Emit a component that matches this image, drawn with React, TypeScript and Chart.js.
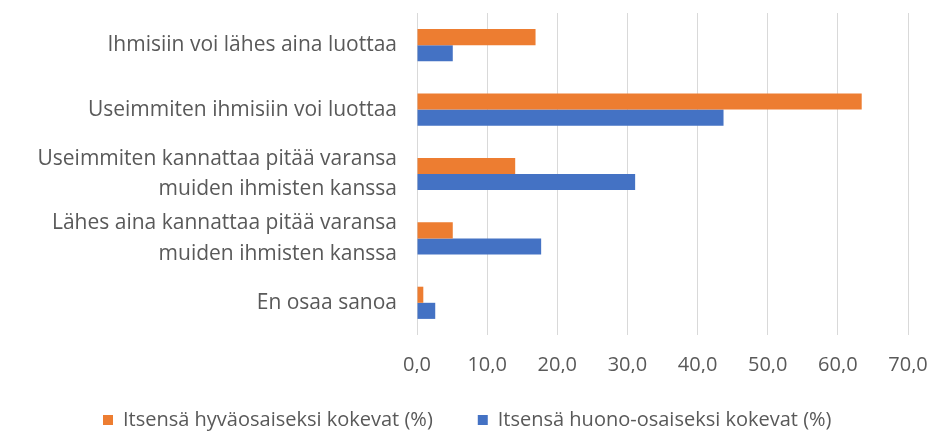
import React, { useEffect, useRef } from "react";
import { Chart, registerables } from "chart.js";

Chart.register(...registerables);

const categories: (string | string[])[] = [
  "Ihmisiin voi lähes aina luottaa",
  "Useimmiten ihmisiin voi luottaa",
  ["Useimmiten kannattaa pitää varansa", "muiden ihmisten kanssa"],
  ["Lähes aina kannattaa pitää varansa", "muiden ihmisten kanssa"],
  "En osaa sanoa",
];
const seriesNames = [
  "Itsensä hyväosaiseksi kokevat (%)",
  "Itsensä huono-osaiseksi kokevat (%)",
];
const hyvaosaiset = [16.9, 63.4, 14.0, 5.1, 0.9];
const huonoosaiset = [5.1, 43.7, 31.1, 17.7, 2.6];
const xMin = 0;
const xMax = 70;
const xStep = 10;

const FONT = "'Open Sans', sans-serif";
const TEXT = "#595959";

const LEGEND_PAD = 45;
const LEGEND_FONT = 20;

const legendPlace = {
  id: "legendPlace",
  afterLayout(chart: any) {
    const lg = chart.legend;
    if (!lg) return;
    const firstBoxX = 103;
    const centerY = 420;
    lg.left = firstBoxX - LEGEND_PAD;
    lg.right = 935;
    lg.top = centerY - LEGEND_PAD - LEGEND_FONT / 2;
    lg.bottom = 431;
  },
};

export default function App() {
  const ref = useRef<HTMLCanvasElement | null>(null);
  useEffect(() => {
    if (!ref.current) return;
    const chart = new Chart(ref.current, {
      type: "bar",
      data: {
        labels: categories as any,
        datasets: [
          {
            label: seriesNames[0],
            data: hyvaosaiset,
            backgroundColor: "#ED7D31",
            barPercentage: 1,
            categoryPercentage: 0.5,
          },
          {
            label: seriesNames[1],
            data: huonoosaiset,
            backgroundColor: "#4472C4",
            barPercentage: 1,
            categoryPercentage: 0.5,
          },
        ],
      },
      options: {
        indexAxis: "y",
        animation: false,
        responsive: true,
        maintainAspectRatio: false,
        layout: { padding: { top: 13, right: 27, left: 0, bottom: 0 } },
        plugins: {
          tooltip: { enabled: false },
          legend: {
            position: "bottom",
            align: "start",
            maxHeight: 58,
            labels: {
              boxWidth: 10,
              boxHeight: 10,
              padding: LEGEND_PAD,
              color: TEXT,
              font: { family: FONT, size: LEGEND_FONT },
            },
          },
        },
        scales: {
          x: {
            min: xMin,
            max: xMax,
            ticks: {
              stepSize: xStep,
              color: TEXT,
              padding: 18,
              font: { family: FONT, size: 20 },
              callback: (v: any) => Number(v).toFixed(1).replace(".", ","),
            },
            grid: { color: "#d9d9d9", drawTicks: false, lineWidth: 1 },
            border: { display: false },
            afterFit: (s: any) => {
              s.height = 38;
              s.paddingLeft = 0;
              s.paddingRight = 0;
            },
          },
          y: {
            ticks: {
              color: TEXT,
              padding: 20,
              autoSkip: false,
              font: { family: FONT, size: 21, lineHeight: 1.45 },
            },
            grid: { display: false, drawTicks: false },
            border: { display: false },
            afterFit: (s: any) => {
              s.width = 417;
              s.paddingTop = 0;
              s.paddingBottom = 0;
            },
          },
        },
      },
      plugins: [legendPlace],
    });
    return () => chart.destroy();
  }, []);
  return (
    <div style={{ position: "absolute", left: 0, top: 0, width: 935, height: 431 }}>
      <canvas ref={ref} />
    </div>
  );
}
